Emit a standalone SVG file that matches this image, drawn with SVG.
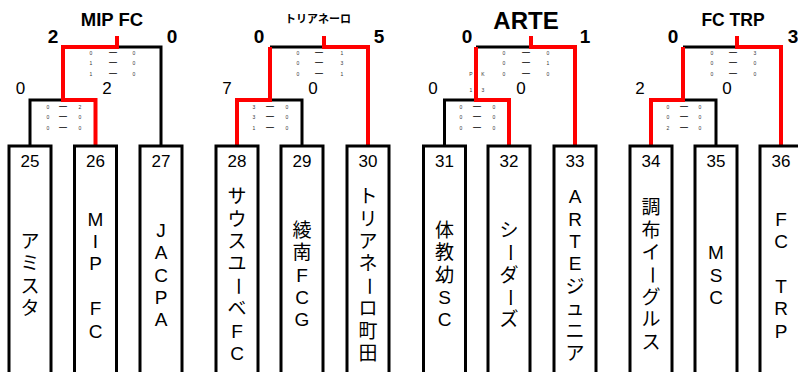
<svg xmlns="http://www.w3.org/2000/svg" width="798" height="372" viewBox="0 0 798 372">
<style>
.bk{fill:none;stroke:#000;stroke-width:3}
.rd{fill:none;stroke:#f00;stroke-width:4}
.box{fill:#fff;stroke:#000;stroke-width:3}
.t{font-family:"Liberation Sans","Noto Sans CJK JP",sans-serif;fill:#000;text-anchor:middle}
.title{font-weight:bold}
.sb{font-size:19px;font-weight:bold}
.sn{font-size:17px}
.num{font-size:17px}
.v{font-size:19px;dominant-baseline:central}
.sm{font-family:"Liberation Sans",sans-serif;font-size:5px;fill:#333;text-anchor:middle}
.ds{font-family:"Liberation Sans",sans-serif;font-size:8px;font-weight:bold;fill:#000;text-anchor:middle}
</style>

<g id="connectors">
<path class="bk" d="M30,145 V100 H63 M117,47 H161 V145"/>
<path class="rd" d="M95.5,145 V100 H63 V47 H117 V36"/>
<path class="bk" d="M270,47 H324 M270,100 H302 V145"/>
<path class="rd" d="M237,145 V100 H270 V47 M324,36 V47 H368 V145"/>
<path class="bk" d="M444.5,145 V100 H476 M476,47 H531"/>
<path class="rd" d="M509,145 V100 H476 V47 M531,36 V47 H575 V145"/>
<path class="bk" d="M683,100 H716 V145 M683,47 H737"/>
<path class="rd" d="M651,145 V100 H683 V47 M737,36 V47 H781 V145"/>
</g>

<g id="titles">
<text class="t title" x="112" y="26" font-size="18.5">MIP FC</text>
<text class="t title" x="318" y="22.5" font-size="11">トリアネーロ</text>
<text class="t title" x="526" y="28.5" font-size="24">ARTE</text>
<text class="t title" x="733" y="26" font-size="17.5">FC TRP</text>
</g>

<g id="scores">
<text class="t sb" x="53" y="43">2</text>
<text class="t sb" x="172" y="43">0</text>
<text class="t sn" x="20.5" y="94">0</text>
<text class="t sn" x="107" y="94">2</text>
<text class="t sb" x="259" y="43">0</text>
<text class="t sb" x="379" y="43">5</text>
<text class="t sn" x="227" y="94">7</text>
<text class="t sn" x="313" y="94">0</text>
<text class="t sb" x="467" y="43">0</text>
<text class="t sb" x="585" y="43">1</text>
<text class="t sn" x="433" y="94">0</text>
<text class="t sn" x="521" y="94">0</text>
<text class="t sb" x="673" y="43">0</text>
<text class="t sb" x="793" y="43">3</text>
<text class="t sn" x="640" y="94">2</text>
<text class="t sn" x="727" y="94">0</text>
</g>

<g id="detail-scores">
<text class="sm" x="91" y="55">0</text><text class="ds" x="113" y="53.5">―</text><text class="sm" x="134" y="55">0</text>
<text class="sm" x="91" y="65">1</text><text class="ds" x="113" y="63.5">―</text><text class="sm" x="134" y="65">0</text>
<text class="sm" x="91" y="76">1</text><text class="ds" x="113" y="74.5">―</text><text class="sm" x="134" y="76">0</text>
<text class="sm" x="48" y="109">0</text><text class="ds" x="63" y="107.5">―</text><text class="sm" x="80" y="109">2</text>
<text class="sm" x="48" y="119">0</text><text class="ds" x="63" y="117.5">―</text><text class="sm" x="80" y="119">0</text>
<text class="sm" x="48" y="130">0</text><text class="ds" x="63" y="128.5">―</text><text class="sm" x="80" y="130">0</text>
<text class="sm" x="298" y="55">0</text><text class="ds" x="319" y="53.5">―</text><text class="sm" x="342" y="55">1</text>
<text class="sm" x="298" y="65">0</text><text class="ds" x="319" y="63.5">―</text><text class="sm" x="342" y="65">3</text>
<text class="sm" x="298" y="76">0</text><text class="ds" x="319" y="74.5">―</text><text class="sm" x="342" y="76">1</text>
<text class="sm" x="254" y="109">3</text><text class="ds" x="270" y="107.5">―</text><text class="sm" x="287" y="109">0</text>
<text class="sm" x="254" y="119">3</text><text class="ds" x="270" y="117.5">―</text><text class="sm" x="287" y="119">0</text>
<text class="sm" x="254" y="130">1</text><text class="ds" x="270" y="128.5">―</text><text class="sm" x="287" y="130">0</text>
<text class="sm" x="504" y="55">0</text><text class="ds" x="526" y="53.5">―</text><text class="sm" x="548" y="55">0</text>
<text class="sm" x="504" y="65">0</text><text class="ds" x="526" y="63.5">―</text><text class="sm" x="548" y="65">1</text>
<text class="sm" x="504" y="76">0</text><text class="ds" x="526" y="74.5">―</text><text class="sm" x="548" y="76">0</text>
<text class="sm" x="471" y="76">P</text><text class="sm" x="483" y="76">K</text>
<text class="sm" x="471" y="92">1</text><text class="sm" x="483" y="92">3</text>
<text class="sm" x="461" y="109">0</text><text class="ds" x="477" y="107.5">―</text><text class="sm" x="494" y="109">0</text>
<text class="sm" x="461" y="119">0</text><text class="ds" x="477" y="117.5">―</text><text class="sm" x="494" y="119">0</text>
<text class="sm" x="461" y="130">0</text><text class="ds" x="477" y="128.5">―</text><text class="sm" x="494" y="130">0</text>
<text class="sm" x="712" y="55">0</text><text class="ds" x="733" y="53.5">―</text><text class="sm" x="755" y="55">3</text>
<text class="sm" x="712" y="65">0</text><text class="ds" x="733" y="63.5">―</text><text class="sm" x="755" y="65">0</text>
<text class="sm" x="712" y="76">0</text><text class="ds" x="733" y="74.5">―</text><text class="sm" x="755" y="76">0</text>
<text class="sm" x="668" y="109">0</text><text class="ds" x="684" y="107.5">―</text><text class="sm" x="700" y="109">0</text>
<text class="sm" x="668" y="119">0</text><text class="ds" x="684" y="117.5">―</text><text class="sm" x="700" y="119">0</text>
<text class="sm" x="668" y="130">2</text><text class="ds" x="684" y="128.5">―</text><text class="sm" x="700" y="130">0</text>
</g>

<g id="team25">
<rect class="box" x="9" y="146" width="42" height="240"/>
<text class="t num" x="30" y="167">25</text>
<text class="t v" x="30" y="241.4">ア</text><text class="t v" x="30" y="263.8">ミ</text><text class="t v" x="30" y="286.2">ス</text><text class="t v" x="30" y="308.6">タ</text>
</g>
<g id="team26">
<rect class="box" x="74.5" y="146" width="42" height="240"/>
<text class="t num" x="95.5" y="167">26</text>
<text class="t v" x="95.5" y="219">M</text><text class="t v" x="95.5" y="241.4">I</text><text class="t v" x="95.5" y="263.8">P</text><text class="t v" x="95.5" y="308.6">F</text><text class="t v" x="95.5" y="331">C</text>
</g>
<g id="team27">
<rect class="box" x="140" y="146" width="42" height="240"/>
<text class="t num" x="161" y="167">27</text>
<text class="t v" x="161" y="230.2">J</text><text class="t v" x="161" y="252.6">A</text><text class="t v" x="161" y="275">C</text><text class="t v" x="161" y="297.4">P</text><text class="t v" x="161" y="319.8">A</text>
</g>
<g id="team28">
<rect class="box" x="216" y="146" width="42" height="240"/>
<text class="t num" x="237" y="167">28</text>
<text class="t v" x="237" y="196.6">サ</text><text class="t v" x="237" y="219">ウ</text><text class="t v" x="237" y="241.4">ス</text><text class="t v" x="237" y="263.8">ユ</text>
<text class="t v" transform="translate(237,286.2) rotate(90)">ー</text>
<text class="t v" x="237" y="308.6">ベ</text><text class="t v" x="237" y="331">F</text><text class="t v" x="237" y="353.4">C</text>
</g>
<g id="team29">
<rect class="box" x="281" y="146" width="42" height="240"/>
<text class="t num" x="302" y="167">29</text>
<text class="t v" x="302" y="230.2">綾</text><text class="t v" x="302" y="252.6">南</text><text class="t v" x="302" y="275">F</text><text class="t v" x="302" y="297.4">C</text><text class="t v" x="302" y="319.8">G</text>
</g>
<g id="team30">
<rect class="box" x="347" y="146" width="42" height="240"/>
<text class="t num" x="368" y="167">30</text>
<text class="t v" x="368" y="196.6">ト</text><text class="t v" x="368" y="219">リ</text><text class="t v" x="368" y="241.4">ア</text><text class="t v" x="368" y="263.8">ネ</text>
<text class="t v" transform="translate(368,286.2) rotate(90)">ー</text>
<text class="t v" x="368" y="308.6">ロ</text><text class="t v" x="368" y="331">町</text><text class="t v" x="368" y="353.4">田</text>
</g>
<g id="team31">
<rect class="box" x="423.5" y="146" width="42" height="240"/>
<text class="t num" x="444.5" y="167">31</text>
<text class="t v" x="444.5" y="230.2">体</text><text class="t v" x="444.5" y="252.6">教</text><text class="t v" x="444.5" y="275">幼</text><text class="t v" x="444.5" y="297.4">S</text><text class="t v" x="444.5" y="319.8">C</text>
</g>
<g id="team32">
<rect class="box" x="488" y="146" width="42" height="240"/>
<text class="t num" x="509" y="167">32</text>
<text class="t v" x="509" y="230.2">シ</text>
<text class="t v" transform="translate(509,252.6) rotate(90)">ー</text>
<text class="t v" x="509" y="275">ダ</text>
<text class="t v" transform="translate(509,297.4) rotate(90)">ー</text>
<text class="t v" x="509" y="319.8">ズ</text>
</g>
<g id="team33">
<rect class="box" x="554" y="146" width="42" height="240"/>
<text class="t num" x="575" y="167">33</text>
<text class="t v" x="575" y="196.6">A</text><text class="t v" x="575" y="219">R</text><text class="t v" x="575" y="241.4">T</text><text class="t v" x="575" y="263.8">E</text>
<text class="t v" x="575" y="286.2">ジ</text><text class="t v" x="575" y="308.6">ュ</text><text class="t v" x="575" y="331">ニ</text><text class="t v" x="575" y="353.4">ア</text>
</g>
<g id="team34">
<rect class="box" x="630" y="146" width="42" height="240"/>
<text class="t num" x="651" y="167">34</text>
<text class="t v" x="651" y="207.8">調</text><text class="t v" x="651" y="230.2">布</text><text class="t v" x="651" y="252.6">イ</text>
<text class="t v" transform="translate(651,275) rotate(90)">ー</text>
<text class="t v" x="651" y="297.4">グ</text><text class="t v" x="651" y="319.8">ル</text><text class="t v" x="651" y="342.2">ス</text>
</g>
<g id="team35">
<rect class="box" x="695" y="146" width="42" height="240"/>
<text class="t num" x="716" y="167">35</text>
<text class="t v" x="716" y="252.6">M</text><text class="t v" x="716" y="275">S</text><text class="t v" x="716" y="297.4">C</text>
</g>
<g id="team36">
<rect class="box" x="760" y="146" width="42" height="240"/>
<text class="t num" x="781" y="167">36</text>
<text class="t v" x="781" y="219">F</text><text class="t v" x="781" y="241.4">C</text><text class="t v" x="781" y="286.2">T</text><text class="t v" x="781" y="308.6">R</text><text class="t v" x="781" y="331">P</text>
</g>
</svg>
